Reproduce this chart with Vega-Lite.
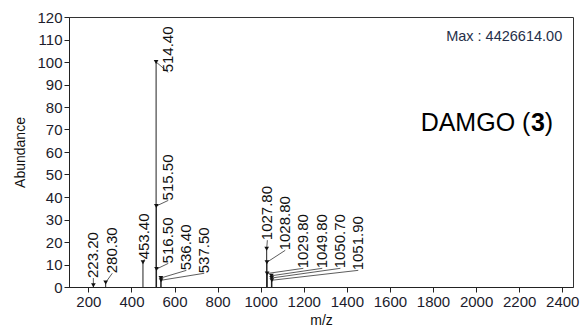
{
  "$schema": "https://vega.github.io/schema/vega-lite/v6.json",
  "width": 504,
  "height": 270,
  "autosize": {"type": "none"},
  "padding": {"left": 69, "top": 17, "right": 7, "bottom": 41},
  "background": "white",
  "config": {
    "view": {"stroke": "#333", "strokeWidth": 1},
    "font": "Liberation Sans",
    "axis": {
      "domainColor": "#222",
      "tickColor": "#222",
      "labelColor": "#1c1c2c",
      "labelFont": "Liberation Sans",
      "labelFontSize": 15,
      "labelOverlap": false,
      "titleFont": "Liberation Sans",
      "titleFontSize": 14,
      "titleFontWeight": "normal",
      "titleColor": "#111",
      "grid": false,
      "tickSize": 5
    }
  },
  "datasets": {
    "peaks": [
      {"mz": 223.2, "ab": 0.8, "label": "223.20", "label_mz": 223, "label_ab": 4.0},
      {"mz": 280.3, "ab": 2, "label": "280.30", "label_mz": 311, "label_ab": 6.1},
      {"mz": 453.4, "ab": 11, "label": "453.40", "label_mz": 460, "label_ab": 12.3},
      {"mz": 514.4, "ab": 100, "label": "514.40", "label_mz": 571, "label_ab": 95.4},
      {"mz": 515.5, "ab": 36, "label": "515.50", "label_mz": 571, "label_ab": 38.5},
      {"mz": 516.5, "ab": 8, "label": "516.50", "label_mz": 571, "label_ab": 10.5},
      {"mz": 536.4, "ab": 4, "label": "536.40", "label_mz": 655, "label_ab": 7.4},
      {"mz": 537.5, "ab": 3, "label": "537.50", "label_mz": 738, "label_ab": 6.1},
      {"mz": 1027.8, "ab": 17, "label": "1027.80", "label_mz": 1031, "label_ab": 20.8},
      {"mz": 1028.8, "ab": 11, "label": "1028.80", "label_mz": 1114, "label_ab": 16.3},
      {"mz": 1029.8, "ab": 6, "label": "1029.80", "label_mz": 1198, "label_ab": 8.3},
      {"mz": 1049.8, "ab": 5, "label": "1049.80", "label_mz": 1286, "label_ab": 8.3},
      {"mz": 1050.7, "ab": 4, "label": "1050.70", "label_mz": 1370, "label_ab": 8.3},
      {"mz": 1051.9, "ab": 3, "label": "1051.90", "label_mz": 1453, "label_ab": 7.4}
    ]
  },
  "data": {"name": "peaks"},
  "encoding": {
    "x": {
      "field": "mz", "type": "quantitative",
      "scale": {"domain": [110, 2450], "nice": false, "zero": false},
      "axis": {"values": [200, 400, 600, 800, 1000, 1200, 1400, 1600, 1800, 2000, 2200, 2400], "format": "d", "title": "m/z", "titlePadding": 4}
    },
    "y": {
      "field": "ab", "type": "quantitative",
      "scale": {"domain": [0, 120], "nice": false},
      "axis": {"values": [0, 10, 20, 30, 40, 50, 60, 70, 80, 90, 100, 110, 120], "format": "d", "title": "Abundance", "titlePadding": 9}
    }
  },
  "layer": [
    {
      "mark": {"type": "rule", "color": "#222", "strokeWidth": 1},
      "encoding": {
        "y2": {"datum": 0}
      }
    },
    {
      "mark": {"type": "rule", "color": "#333", "strokeWidth": 0.8},
      "encoding": {
        "x2": {"field": "label_mz"},
        "y2": {"field": "label_ab"}
      }
    },
    {
      "mark": {"type": "point", "shape": "triangle-down", "filled": true, "color": "#111", "size": 22, "opacity": 1},
      "encoding": {}
    },
    {
      "mark": {"type": "text", "angle": 270, "align": "left", "baseline": "middle", "fontSize": 15, "font": "Liberation Sans", "color": "#111"},
      "encoding": {
        "x": {"field": "label_mz", "type": "quantitative"},
        "y": {"field": "label_ab", "type": "quantitative"},
        "text": {"field": "label"}
      }
    },
    {
      "data": {"values": [{"t": "Max : 4426614.00", "mz": 2400, "ab": 111}]},
      "mark": {"type": "text", "align": "right", "baseline": "middle", "fontSize": 14.5, "color": "#26304a", "font": "Liberation Sans"},
      "encoding": {"text": {"field": "t"}}
    },
    {
      "data": {"values": [{"t": "DAMGO (", "mz": 2252, "ab": 73}]},
      "mark": {"type": "text", "align": "right", "baseline": "middle", "fontSize": 25, "color": "#000", "font": "Liberation Sans"},
      "encoding": {"text": {"field": "t"}}
    },
    {
      "data": {"values": [{"t": "3", "mz": 2319, "ab": 73}]},
      "mark": {"type": "text", "align": "right", "baseline": "middle", "fontSize": 25, "fontWeight": "bold", "color": "#000", "font": "Liberation Sans"},
      "encoding": {"text": {"field": "t"}}
    },
    {
      "data": {"values": [{"t": ")", "mz": 2358, "ab": 73}]},
      "mark": {"type": "text", "align": "right", "baseline": "middle", "fontSize": 25, "color": "#000", "font": "Liberation Sans"},
      "encoding": {"text": {"field": "t"}}
    }
  ]
}
